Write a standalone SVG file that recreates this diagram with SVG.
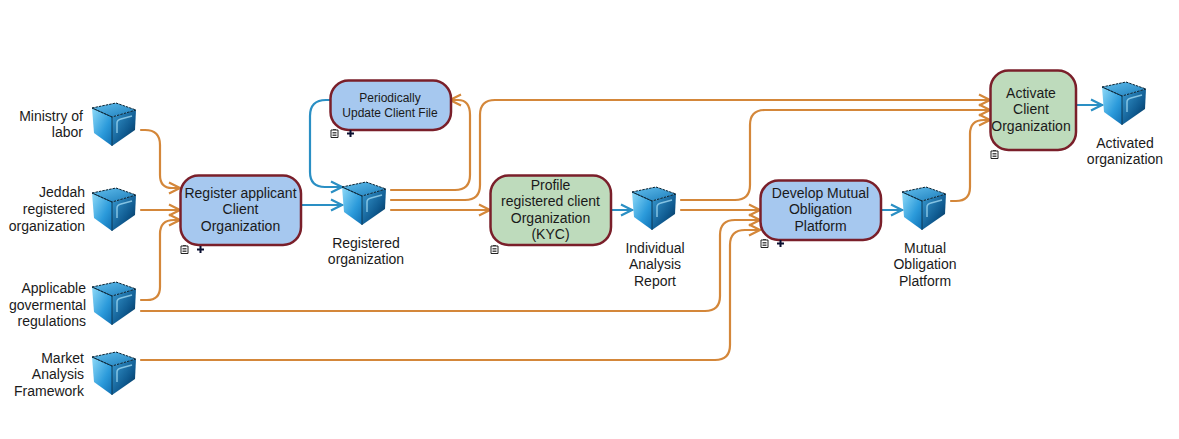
<svg xmlns="http://www.w3.org/2000/svg" width="1179" height="439" viewBox="0 0 1179 439">
<style>
text{font-family:"Liberation Sans",Arial,sans-serif;font-size:14px;fill:#1a1a1a}
.m{text-anchor:middle}.e{text-anchor:end}
.s{font-size:12px}
.p{stroke:#7a1f2a;stroke-width:2.5}
.b{fill:#a6c8ef}.g{fill:#bedbbc}
.o,.c{fill:none;stroke-width:2.2;stroke-linecap:round}
.o{stroke:#d4873a;marker-end:url(#ao)}
.c{stroke:#2a8fc4;marker-end:url(#ab)}
</style>
<defs>
<marker id="ao" markerUnits="userSpaceOnUse" markerWidth="14" markerHeight="14" refX="12" refY="7" orient="auto"><path d="M1 1.500L12 7L1 12.500" fill="none" stroke="#d4873a" stroke-width="2.2"/></marker>
<marker id="ab" markerUnits="userSpaceOnUse" markerWidth="14" markerHeight="14" refX="12" refY="7" orient="auto"><path d="M1 1.500L12 7L1 12.500" fill="none" stroke="#2a8fc4" stroke-width="2.2"/></marker>
<linearGradient id="l" x1="0" y1="0" x2="1" y2="1"><stop offset="0" stop-color="#8edaf8"/><stop offset=".6" stop-color="#2c9bdb"/><stop offset="1" stop-color="#0f6fb3"/></linearGradient>
<linearGradient id="r" x1="0" y1="0" x2="1" y2="1"><stop offset="0" stop-color="#3a9bd2"/><stop offset=".6" stop-color="#0f5a90"/><stop offset="1" stop-color="#032a48"/></linearGradient>
<linearGradient id="t" x1="0" y1="0" x2="1" y2="1"><stop offset="0" stop-color="#62bfee"/><stop offset="1" stop-color="#1b7cba"/></linearGradient>
<symbol id="cube" width="44" height="44" viewBox="0 0 44 44" overflow="visible">
<path d="M0 5L24 0L44 7L20 14Z" fill="url(#t)"/>
<path d="M0 5L20 14L20 43L2 30Z" fill="url(#l)"/>
<path d="M20 14L44 7L43 27L20 43Z" fill="url(#r)"/>
<path d="M25 30V20Q25 17 29 16L40 13" fill="none" stroke="#a5def5" stroke-width="1.500" opacity=".75"/>
<path d="M0 5L24 0L44 7L20 14Z" fill="none" stroke="#08202f" stroke-width="1" stroke-dasharray="2.500 1"/>
<path d="M0 5L20 14M20 14V43" fill="none" stroke="#08283e" stroke-width=".8"/>
</symbol>
<symbol id="doc" width="9" height="9" viewBox="0 0 9 9"><path d="M1 1H8V8.500H1Z" fill="#fff" stroke="#222"/><path d="M2.500 3.500H6.500M2.500 5H6.500M2.500 6.500H6.500M3 .5H6" stroke="#222" stroke-width=".8"/></symbol>
<symbol id="plus" width="7" height="7" viewBox="0 0 7 7"><path d="M3.500 0V7M0 3.500H7" stroke="#0a0f30" stroke-width="2"/></symbol>
</defs>
<g id="connectors">
<path class="o" d="M141 130H145Q160 130 160 145V175Q160 188 172 188H180"/>
<path class="o" d="M141 210H180"/>
<path class="o" d="M141 300H147Q160 300 160 287V234Q160 220 174 220H180"/>
<path class="o" d="M141 311H705Q720 311 720 296V235Q720 220 735 220H760"/>
<path class="o" d="M141 360H715Q730 360 730 345V245Q730 230 745 230H760"/>
<path class="c" d="M301 205H342"/>
<path class="c" d="M330 100H326Q310 100 310 116V172Q310 187 325 187H342"/>
<path class="o" d="M391 190H455Q470 190 470 175V115Q470 100 458 100H450"/>
<path class="o" d="M391 200H465Q480 200 480 185V115Q480 100 495 100H990"/>
<path class="o" d="M391 210H490"/>
<path class="c" d="M611 210H632"/>
<path class="o" d="M681 200H735Q750 200 750 185V125Q750 110 765 110H990"/>
<path class="o" d="M681 210H760"/>
<path class="c" d="M881 210H902"/>
<path class="o" d="M951 201H956Q970 201 970 187V134Q970 120 984 120H990"/>
<path class="c" d="M1076 105H1102"/>
</g>
<g id="ministry"><use href="#cube" x="92" y="103"/><text class="e" x="83" y="121">Ministry of</text><text class="e" x="83" y="137">labor</text></g>
<g id="jeddah"><use href="#cube" x="92" y="188"/><text class="e" x="85" y="197">Jeddah</text><text class="e" x="85" y="214">registered</text><text class="e" x="85" y="231">organization</text></g>
<g id="regulations"><use href="#cube" x="92" y="282"/><text class="e" x="86" y="293">Applicable</text><text class="e" x="86" y="310">govermental</text><text class="e" x="86" y="326">regulations</text></g>
<g id="market"><use href="#cube" x="92" y="352"/><text class="e" x="84" y="363">Market</text><text class="e" x="84" y="379">Analysis</text><text class="e" x="84" y="396">Framework</text></g>
<g id="register"><rect class="p b" x="180.500" y="175.500" width="120.500" height="69.500" rx="18"/><text class="m" x="240.500" y="198">Register applicant</text><text class="m" x="240.500" y="214">Client</text><text class="m" x="240.500" y="231">Organization</text><use href="#doc" x="180" y="245"/><use href="#plus" x="197" y="246"/></g>
<g id="periodic"><rect class="p b" x="330.500" y="80.500" width="120.500" height="49.500" rx="18"/><text class="m s" x="390" y="102">Periodically</text><text class="m s" x="390" y="117">Update Client File</text><use href="#doc" x="330" y="129"/><use href="#plus" x="347" y="130"/></g>
<g id="registered"><use href="#cube" x="342" y="182"/><text class="m" x="366" y="248">Registered</text><text class="m" x="366" y="264">organization</text></g>
<g id="profile"><rect class="p g" x="490.500" y="175.500" width="120.500" height="69.500" rx="18"/><text class="m" x="550.500" y="190">Profile</text><text class="m" x="550.500" y="206">registered client</text><text class="m" x="550.500" y="223">Organization</text><text class="m" x="550.500" y="239">(KYC)</text><use href="#doc" x="490" y="245"/></g>
<g id="individual"><use href="#cube" x="632" y="187"/><text class="m" x="655" y="253">Individual</text><text class="m" x="655" y="269">Analysis</text><text class="m" x="655" y="286">Report</text></g>
<g id="develop"><rect class="p b" x="760.500" y="180.500" width="120.500" height="59.500" rx="18"/><text class="m" x="820.500" y="198">Develop Mutual</text><text class="m" x="820.500" y="214">Obligation</text><text class="m" x="820.500" y="231">Platform</text><use href="#doc" x="760" y="239"/><use href="#plus" x="777" y="240"/></g>
<g id="mutual"><use href="#cube" x="902" y="187"/><text class="m" x="925" y="253">Mutual</text><text class="m" x="925" y="269">Obligation</text><text class="m" x="925" y="286">Platform</text></g>
<g id="activate"><rect class="p g" x="990.500" y="70.500" width="85.500" height="79.500" rx="18"/><text class="m" x="1031" y="98">Activate</text><text class="m" x="1031" y="114">Client</text><text class="m" x="1031" y="131">Organization</text><use href="#doc" x="990" y="150"/></g>
<g id="activated"><use href="#cube" x="1102" y="82"/><text class="m" x="1125" y="148">Activated</text><text class="m" x="1125" y="164">organization</text></g>
</svg>
